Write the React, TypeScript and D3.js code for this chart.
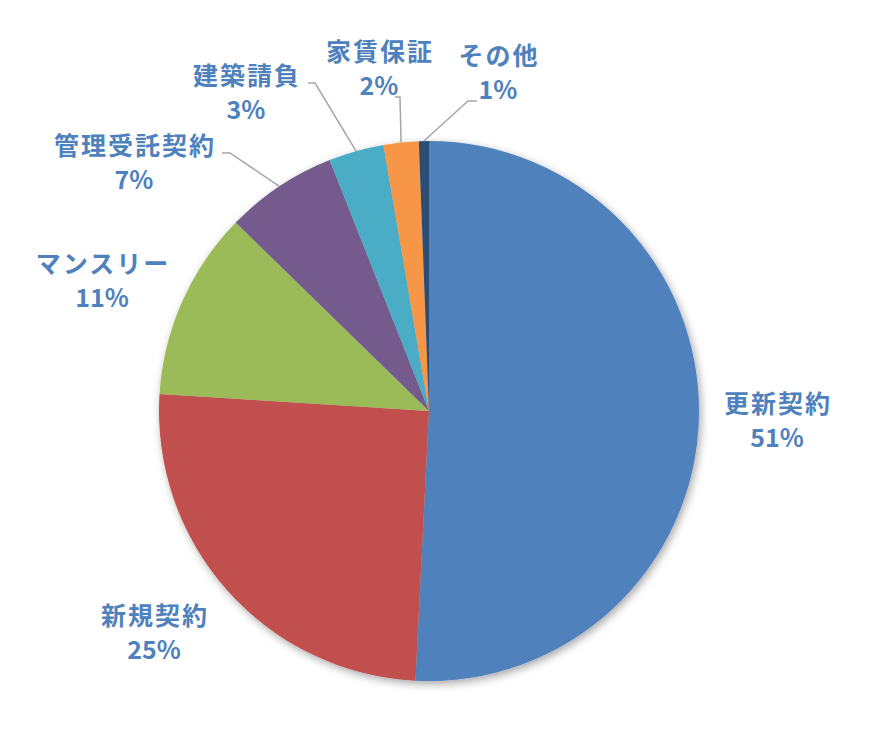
import React, { useEffect } from 'react';
import * as d3 from 'd3';

// slice data (share of contracts, %)
const categories = ['更新契約', '新規契約', 'マンスリー', '管理受託契約', '建築請負', '家賃保証', 'その他'];
const values = [50.8, 25.2, 11.3, 6.7, 3.3, 2.1, 0.6];
const colors = ['#4F81BD', '#C0504D', '#9BBB59', '#755A8E', '#4BACC6', '#F79646', '#2C4D75'];

// label placement relative to pie centre: [centre x, name baseline y]
const labelOffsets: [number, number][] = [
  [348, 2], [-275, 214], [-327, -138], [-295, -256], [-183, -326], [-50, -350], [69, -346],
];
// leader lines for the small slices: [elbow, end] relative to centre (null = none)
const leaders: ([number, number][] | null)[] = [
  null, null, null,
  [[-199, -258], [-207, -258]],
  [[-114, -328], [-121, -328]],
  [[-29, -314], [-34, -314]],
  [[39, -310], [48, -310]],
];

const W = 886;
const H = 736;

const App: React.FC = () => {
  useEffect(() => {
    document.body.style.margin = '0';
  }, []);

  const cx = 429;
  const cy = 411;
  const r = 270;

  const pie = d3.pie<number>().sort(null).value(d => d);
  const arcs = pie(values);
  const arc = d3.arc<d3.PieArcDatum<number>>().innerRadius(0).outerRadius(r);
  const total = d3.sum(values);

  const textColor = '#4F81BD';
  const font = '"Noto Sans CJK JP", "Noto Sans", sans-serif';
  const spacing = 2;

  return (
    <svg width={W} height={H} style={{ display: 'block', background: '#fff' }}>
      <defs>
        <filter id="shadow" x="-20%" y="-20%" width="140%" height="140%">
          <feDropShadow dx="2" dy="3" stdDeviation="4" floodColor="#000" floodOpacity="0.35" />
        </filter>
      </defs>
      <g transform={`translate(${cx},${cy})`}>
        <g filter="url(#shadow)">
          {arcs.map((a, i) => (
            <path key={i} d={arc(a) || ''} fill={colors[i]} />
          ))}
        </g>
        {arcs.map((a, i) => {
          const l = leaders[i];
          if (!l) return null;
          const mid = (a.startAngle + a.endAngle) / 2;
          const px = r * Math.sin(mid);
          const py = -r * Math.cos(mid);
          const pts: [number, number][] = [[px, py], ...l];
          return (
            <polyline
              key={i}
              points={pts.map(p => p.join(',')).join(' ')}
              fill="none"
              stroke="#A6A6A6"
              strokeWidth={1.5}
            />
          );
        })}
        {arcs.map((a, i) => {
          const [lx, ly] = labelOffsets[i];
          const pct = Math.round((values[i] / total) * 100);
          return (
            <g key={i} fill={textColor} fontFamily={font} fontWeight="bold" fontSize={25} textAnchor="middle">
              <text x={lx + spacing / 2} y={ly} letterSpacing={spacing}>{categories[i]}</text>
              <text x={lx} y={ly + 34}>{pct}%</text>
            </g>
          );
        })}
      </g>
    </svg>
  );
};

export default App;
